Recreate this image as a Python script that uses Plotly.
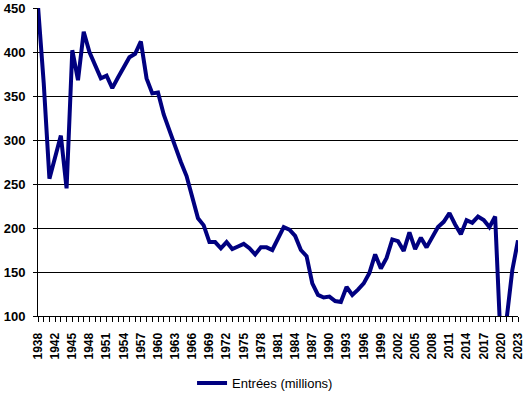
import plotly.graph_objects as go

years = ["1938", "1940", "1941", "1942", "1943", "1944"] + [str(y) for y in range(1945, 2024)]
entrees = [452, 365, 256, 281, 305, 245,
           402, 368, 423, 400, 385, 370, 373, 359, 371, 383,
           394, 398, 412, 370, 353, 354, 329, 311, 292, 275,
           259, 234, 211, 203, 184, 184, 177, 184, 176, 179,
           182, 177, 170, 178, 178, 175, 189, 201, 198, 191,
           175, 168, 137, 124, 121, 122, 117, 116, 133, 124,
           130, 137, 149, 170, 154, 166, 187, 185, 174, 195,
           176, 189, 178, 190, 201, 207, 217, 204, 193, 209,
           206, 213, 209, 201, 213, 65, 96, 152, 186]
series_name = "Entrées (millions)"
tick_labels = [y if i % 3 == 0 else "" for i, y in enumerate(years)]

fig = go.Figure()
fig.add_trace(go.Scatter(x=years, y=entrees, mode="lines", name=series_name,
                         line=dict(color="#000080", width=4)))

xfont = dict(family="Liberation Sans, Arial", size=12, color="black", weight="bold")
yfont = dict(family="Liberation Sans, Arial", size=13, color="black", weight="bold")
fig.update_layout(
    width=523, height=393,
    margin=dict(l=38, r=5, t=8, b=77, autoexpand=False),
    paper_bgcolor="white", plot_bgcolor="white",
    showlegend=True,
    legend=dict(orientation="h", x=0.473, xanchor="center", y=-0.218, yanchor="middle",
                font=dict(family="Liberation Sans, Arial", size=13, color="black")),
    xaxis=dict(type="category", range=[0, len(years) - 1], tickmode="array",
               tickvals=years, ticktext=tick_labels, tickangle=-90,
               ticks="outside", ticklen=5, tickcolor="black", tickwidth=1,
               ticklabelstandoff=6, automargin=False,
               showline=True, linecolor="black", linewidth=1,
               showgrid=False, tickfont=xfont, fixedrange=True),
    yaxis=dict(range=[100, 450], dtick=50, tick0=100,
               ticks="outside", ticklen=4, tickcolor="black",
               ticklabelstandoff=5, automargin=False,
               showline=True, linecolor="black", linewidth=1,
               showgrid=True, gridcolor="black", gridwidth=1,
               zeroline=False, tickfont=yfont, fixedrange=True),
)
fig.write_html("out.html", config={"displayModeBar": False},
               post_script="document.body.style.margin='0';document.body.style.overflow='hidden';")
